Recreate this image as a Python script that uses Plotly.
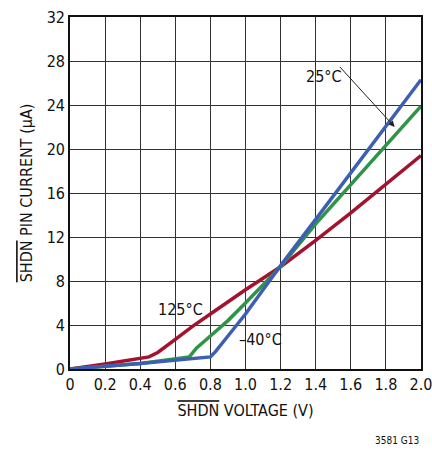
import plotly.graph_objects as go

# SHDN pin current vs SHDN voltage
v_minus40 = [0, 0.4, 0.8, 0.83, 0.9, 1.0, 1.1, 1.2, 1.4, 1.6, 1.8, 2.0]
i_minus40 = [0, 0.5, 1.1, 1.6, 3.0, 5.0, 7.2, 9.4, 13.6, 17.8, 22.0, 26.3]

v_25 = [0, 0.4, 0.68, 0.72, 0.8, 0.9, 1.0, 1.1, 1.2, 1.4, 1.6, 1.8, 2.0]
i_25 = [0, 0.5, 1.1, 1.9, 3.0, 4.4, 6.0, 7.6, 9.3, 13.2, 16.8, 20.4, 23.9]

v_125 = [0, 0.2, 0.45, 0.5, 0.6, 0.7, 0.8, 0.9, 1.0, 1.2, 1.4, 1.6, 1.8, 2.0]
i_125 = [0, 0.45, 1.1, 1.5, 2.7, 3.9, 5.0, 6.1, 7.2, 9.3, 11.7, 14.2, 16.8, 19.4]

x_ticks = [0, 0.2, 0.4, 0.6, 0.8, 1.0, 1.2, 1.4, 1.6, 1.8, 2.0]
x_labels = ["0", "0.2", "0.4", "0.6", "0.8", "1.0", "1.2", "1.4", "1.6", "1.8", "2.0"]
y_ticks = [0, 4, 8, 12, 16, 20, 24, 28, 32]

FONT = "DejaVu Sans Condensed, Liberation Sans Narrow, sans-serif"
OV = '<span style="text-decoration:overline">SHDN</span>'

fig = go.Figure()
for xs, ys, col in [
    (v_125, i_125, "#a3122f"),
    (v_25, i_25, "#2f9447"),
    (v_minus40, i_minus40, "#3d5fb3"),
]:
    fig.add_trace(go.Scatter(x=xs, y=ys, mode="lines",
                             line=dict(color=col, width=3.5), showlegend=False))

fig.add_annotation(x=1.85, y=22.0, ax=1.53, ay=27.6, axref="x", ayref="y",
                   text="", showarrow=True, arrowhead=2, arrowsize=1.2,
                   arrowwidth=1, arrowcolor="#222")
fig.add_annotation(x=1.448, y=26.6, text="25°C", showarrow=False,
                   font=dict(size=16, color="#111", family=FONT))
fig.add_annotation(x=0.627, y=5.4, text="125°C", showarrow=False,
                   font=dict(size=16, color="#111", family=FONT))
fig.add_annotation(x=1.088, y=2.7, text="–40°C", showarrow=False,
                   font=dict(size=16, color="#111", family=FONT))
fig.add_annotation(x=1.0, y=-0.225, xref="paper", yref="paper",
                   text="3581 G13", showarrow=False, xanchor="right",
                   font=dict(size=10, color="#111", family=FONT))

fig.update_xaxes(range=[0, 2.0], tickvals=x_ticks, ticktext=x_labels,
                 showgrid=True, gridcolor="#333333", gridwidth=1.3,
                 showline=True, linecolor="#111", linewidth=1.6, mirror=True,
                 ticks="", zeroline=False, automargin=False,
                 ticklabeloverflow="allow",
                 tickfont=dict(size=16, color="#111", family=FONT),
                 title=dict(text=OV + " VOLTAGE (V)", standoff=12,
                            font=dict(size=16, color="#111", family=FONT)))
fig.update_yaxes(range=[0, 32], tickvals=y_ticks,
                 showgrid=True, gridcolor="#333333", gridwidth=1.3,
                 showline=True, linecolor="#111", linewidth=1.6, mirror=True,
                 ticks="", zeroline=False, automargin=False,
                 ticklabeloverflow="allow",
                 tickfont=dict(size=16, color="#111", family=FONT),
                 title=dict(text=OV + " PIN CURRENT (µA)", standoff=10,
                            font=dict(size=16, color="#111", family=FONT)))

fig.update_layout(width=432, height=455,
                  margin=dict(l=70, r=11, t=17, b=86),
                  plot_bgcolor="white", paper_bgcolor="white")

# drop the default page margin so the figure sits at the window corner
fig.write_html("out.html", config={"displayModeBar": False},
               post_script="document.body.style.margin='0';")
